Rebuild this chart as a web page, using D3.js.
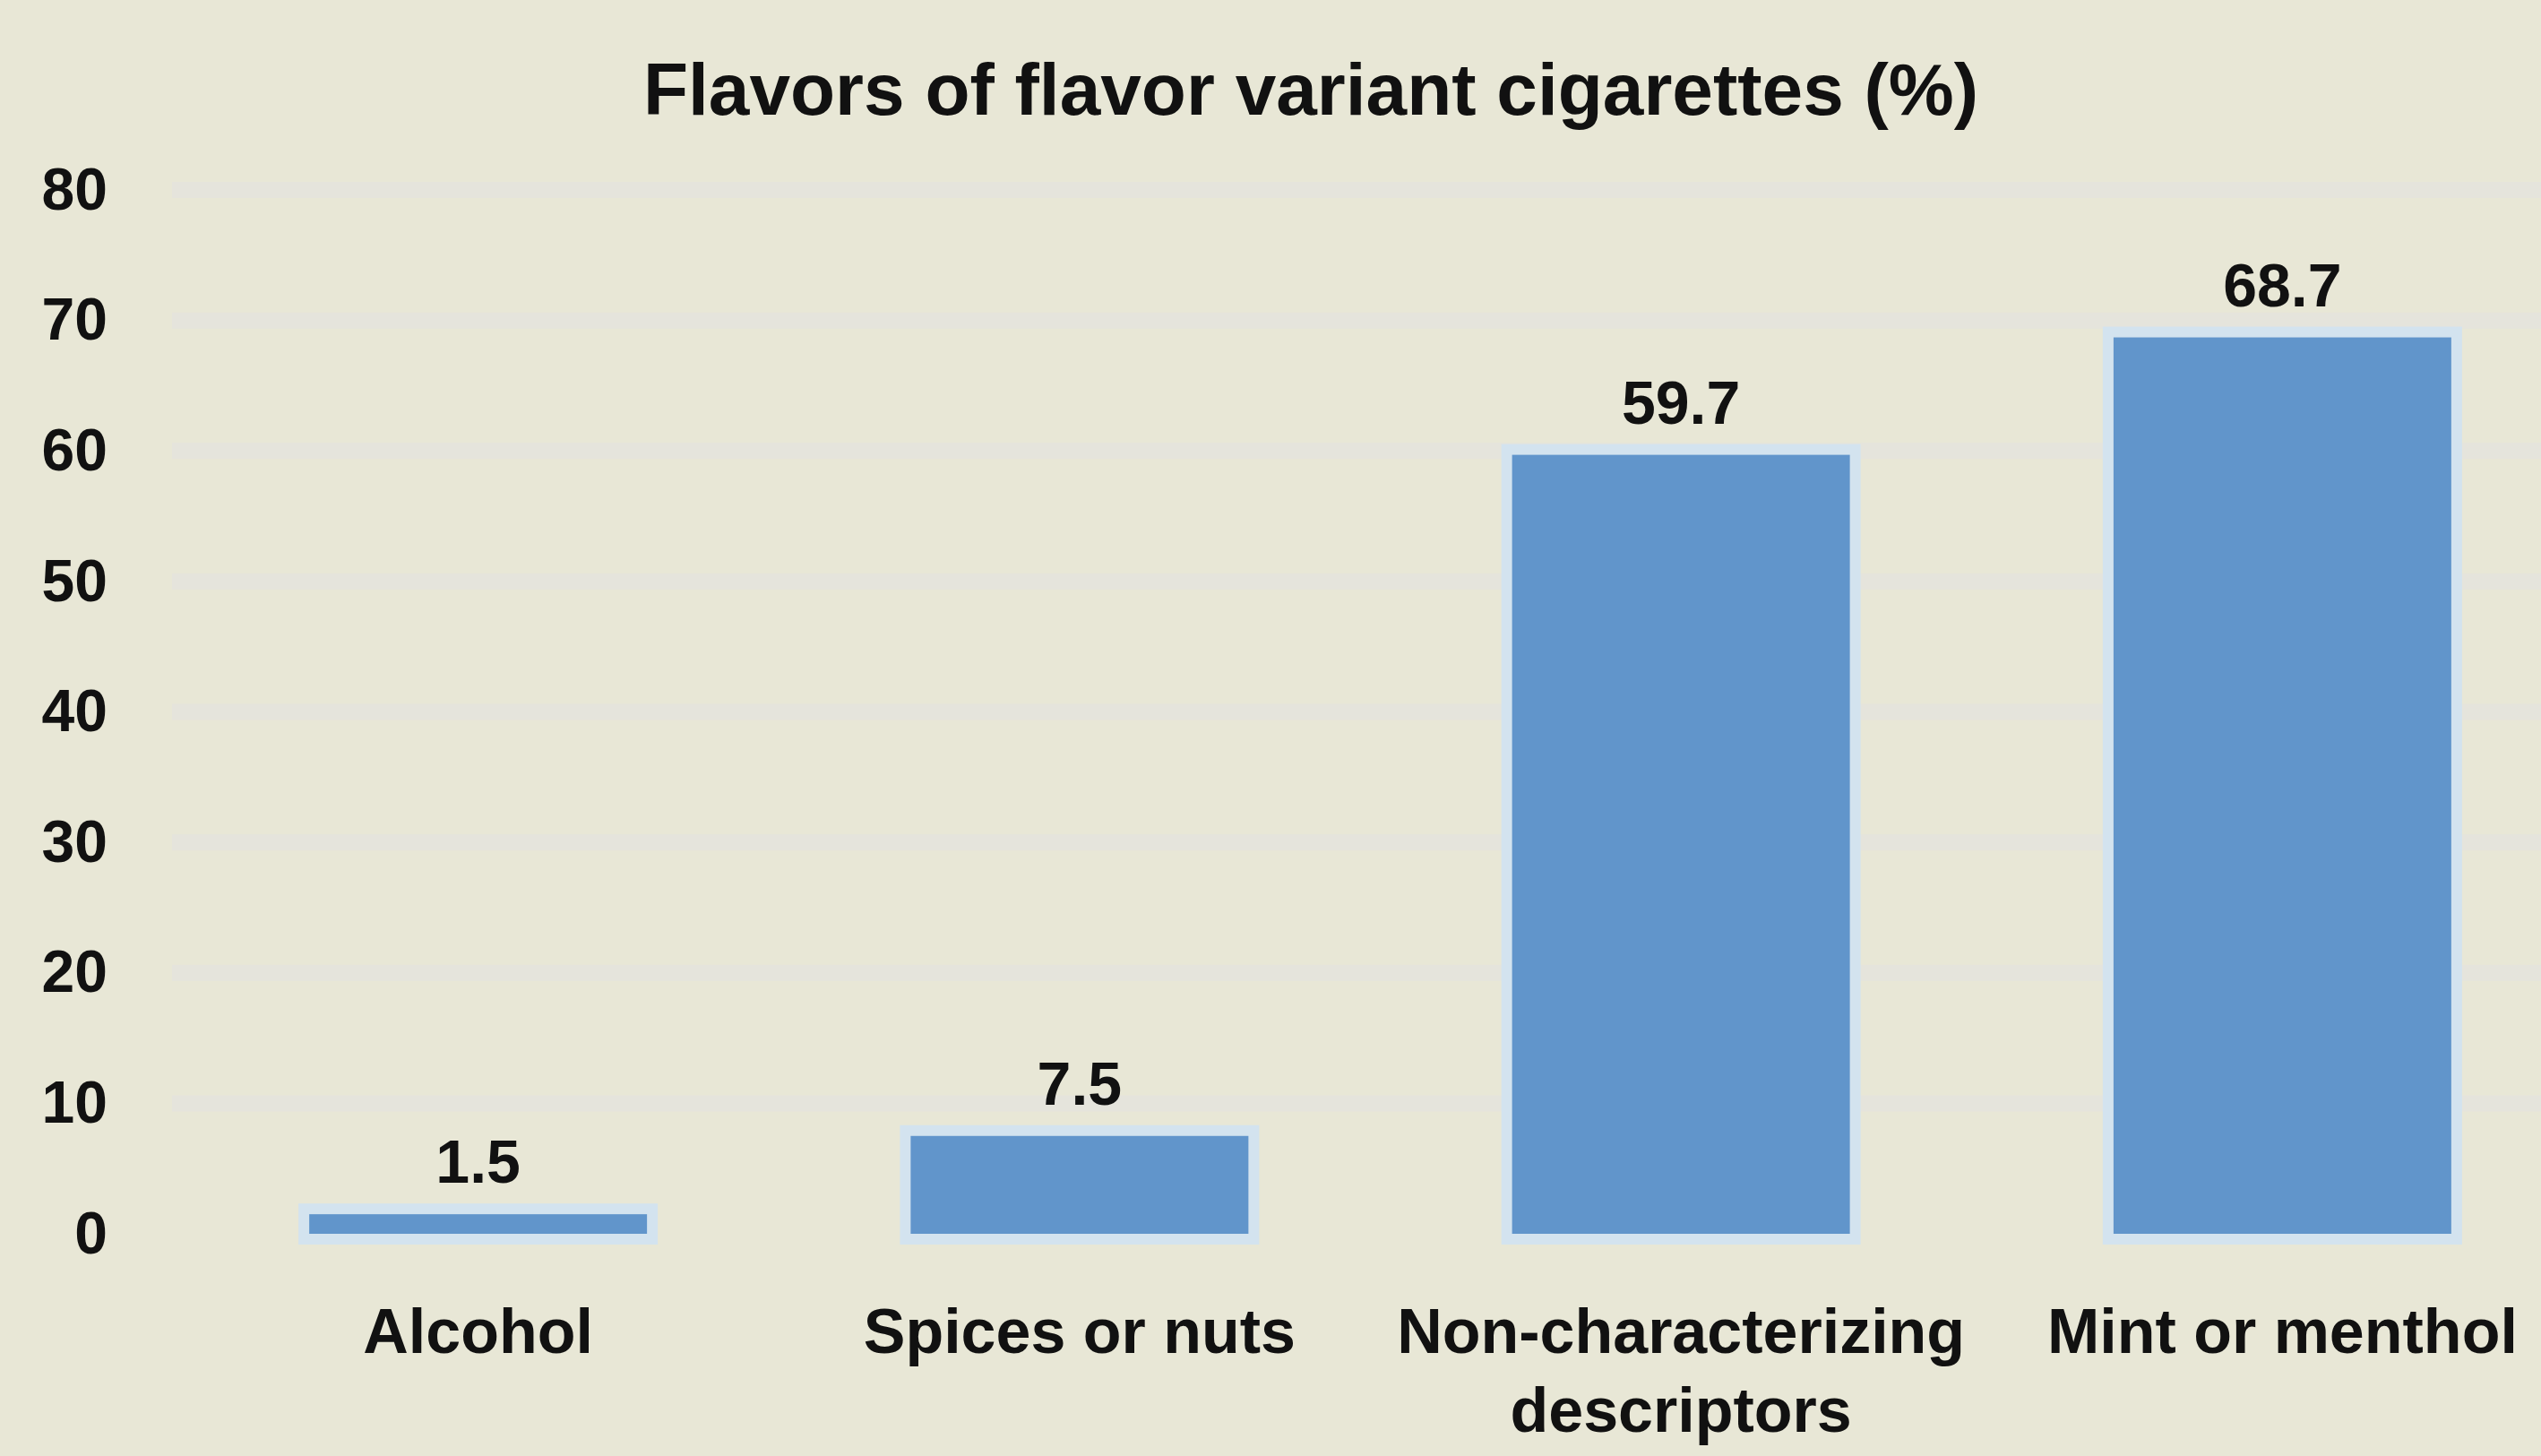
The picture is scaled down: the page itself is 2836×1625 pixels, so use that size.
<!DOCTYPE html>
<html>
<head>
<meta charset="utf-8">
<script src="https://cdn.jsdelivr.net/npm/d3@7"></script>
<style>
  html, body { margin: 0; padding: 0; background: #e8e7d6; }
  svg { display: block; }
  text { font-family: "Liberation Sans", Arial, sans-serif; font-weight: bold; fill: #111; }
</style>
</head>
<body>
<svg id="chart" width="2836" height="1625"></svg>
<script>
// ---- data ----
const title = "Flavors of flavor variant cigarettes (%)";
const categories = ["Alcohol", "Spices or nuts", "Non-characterizing descriptors", "Mint or menthol"];
const values = [1.5, 7.5, 59.7, 68.7];
const valueLabels = ["1.5", "7.5", "59.7", "68.7"];
const yTicks = [0, 10, 20, 30, 40, 50, 60, 70, 80];
const yDomain = [0, 80];

// ---- layout ----
const W = 2836, H = 1625;
const svg = d3.select("#chart");

svg.append("rect").attr("width", W).attr("height", H).attr("fill", "#e8e7d6");

const x = d3.scaleBand()
  .domain(categories)
  .range([198, 2883])
  .paddingInner(0.4384)
  .paddingOuter(0.2192);

const y = d3.scaleLinear().domain(yDomain).range([1377, 212]);

// gridlines (faint)
svg.append("g")
  .selectAll("line")
  .data(yTicks.filter(d => d > 0))
  .join("line")
  .attr("x1", 192).attr("x2", W)
  .attr("y1", d => y(d)).attr("y2", d => y(d))
  .attr("stroke", "#e5e4dc")
  .attr("stroke-width", 18);

// title
svg.append("text")
  .attr("x", 1463).attr("y", 128)
  .attr("text-anchor", "middle")
  .style("font-size", "82px")
  .text(title);

// y axis
const yAxis = d3.axisLeft(y).tickValues(yTicks).tickSize(0).tickPadding(8).tickFormat(d3.format("d"));
const gy = svg.append("g").attr("transform", "translate(128,0)").call(yAxis);
gy.select(".domain").remove();
gy.selectAll("text")
  .style("font-size", "66px")
  .style("font-family", "\"Liberation Sans\", Arial, sans-serif")
  .style("font-weight", "bold")
  .attr("fill", "#111");

// bars: halo + fill
const halo = 12;
svg.append("g")
  .selectAll("rect")
  .data(values)
  .join("rect")
  .attr("x", (d, i) => x(categories[i]) - halo)
  .attr("y", d => y(d) - halo)
  .attr("width", x.bandwidth() + 2 * halo)
  .attr("height", d => y(0) - y(d) + 2 * halo)
  .attr("fill", "#d3e3ef");

svg.append("g")
  .selectAll("rect")
  .data(values)
  .join("rect")
  .attr("x", (d, i) => x(categories[i]))
  .attr("y", d => y(d))
  .attr("width", x.bandwidth())
  .attr("height", d => y(0) - y(d))
  .attr("fill", "#6195cb");

// value labels
svg.append("g")
  .selectAll("text")
  .data(values)
  .join("text")
  .attr("x", (d, i) => x(categories[i]) + x.bandwidth() / 2)
  .attr("y", d => y(d) - 35)
  .attr("text-anchor", "middle")
  .style("font-size", "68px")
  .text((d, i) => valueLabels[i]);

// category labels with wrapping
const maxW = x.step();
const catG = svg.append("g");
categories.forEach(cat => {
  const cx = x(cat) + x.bandwidth() / 2;
  const t = catG.append("text")
    .attr("x", cx)
    .attr("y", 1510)
    .attr("text-anchor", "middle")
    .style("font-size", "70px");
  const words = cat.split(" ");
  let line = [];
  let tspan = t.append("tspan").attr("x", cx).attr("dy", 0);
  words.forEach(w => {
    line.push(w);
    tspan.text(line.join(" "));
    if (tspan.node().getComputedTextLength() > maxW - 20 && line.length > 1) {
      line.pop();
      tspan.text(line.join(" "));
      line = [w];
      tspan = t.append("tspan").attr("x", cx).attr("dy", 88).text(w);
    }
  });
});
</script>
</body>
</html>
